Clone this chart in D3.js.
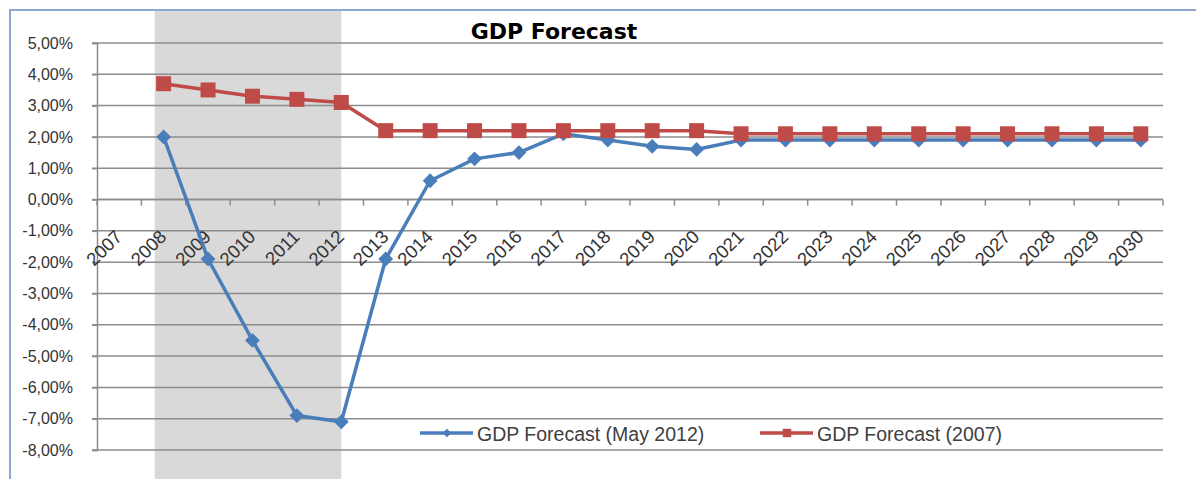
<!DOCTYPE html>
<html><head><meta charset="utf-8">
<script src="https://cdn.jsdelivr.net/npm/d3@7"></script>
<style>html,body{margin:0;padding:0;background:#fff;}svg{display:block;}</style>
</head><body>
<script>
const years = ["2007","2008","2009","2010","2011","2012","2013","2014","2015","2016","2017","2018","2019","2020","2021","2022","2023","2024","2025","2026","2027","2028","2029","2030"];
const forecastMay2012 = [null,2.0,-1.9,-4.5,-6.9,-7.1,-1.9,0.6,1.3,1.5,2.1,1.9,1.7,1.6,1.9,1.9,1.9,1.9,1.9,1.9,1.9,1.9,1.9,1.9];
const forecast2007 = [null,3.7,3.5,3.3,3.2,3.1,2.2,2.2,2.2,2.2,2.2,2.2,2.2,2.2,2.1,2.1,2.1,2.1,2.1,2.1,2.1,2.1,2.1,2.1];
const yTicks = [-8,-7,-6,-5,-4,-3,-2,-1,0,1,2,3,4,5];
const yTickLabels = ["-8,00%","-7,00%","-6,00%","-5,00%","-4,00%","-3,00%","-2,00%","-1,00%","0,00%","1,00%","2,00%","3,00%","4,00%","5,00%"];
const shadedPeriod = ["2008","2012"];
const seriesNames = ["GDP Forecast (May 2012)","GDP Forecast (2007)"];
const title = "GDP Forecast";

const W = 1196, H = 479;
const blue = "#4a7ebb", red = "#be4b48";
const textCol = "#333333";
const svg = d3.select("body").append("svg").attr("width", W).attr("height", H);

const x = d3.scaleBand().domain(years).range([97, 1163]).paddingInner(0).paddingOuter(0);
const cx = d => x(d) + x.bandwidth()/2;
const y = d3.scaleLinear().domain([-8, 5]).range([450, 43]);

// shaded period
const shadeX0 = cx(shadedPeriod[0]) - x.bandwidth()*0.2;
svg.append("rect")
  .attr("x", shadeX0)
  .attr("y", 11)
  .attr("width", cx(shadedPeriod[1]) - shadeX0)
  .attr("height", H - 11)
  .attr("fill", "#d9d9d9");

// chart border (top + left)
svg.append("path").attr("d", `M10,${H} L10,10 L${W},10`).attr("fill","none")
  .attr("stroke", "#8da6cf").attr("stroke-width", 2);

// gridlines
svg.append("g").selectAll("line").data(yTicks).join("line")
  .attr("x1", 92).attr("x2", 1163)
  .attr("y1", d => y(d)).attr("y2", d => y(d))
  .attr("stroke", "#8c8c8c").attr("stroke-width", 1.5);

// y axis
const yAxis = svg.append("g").attr("transform", "translate(97,0)")
  .call(d3.axisLeft(y).tickValues(yTicks).tickSize(5).tickPadding(19)
    .tickFormat((d,i) => yTickLabels[i]));
yAxis.select(".domain").attr("stroke", "#8c8c8c").attr("stroke-width", 1.5);
yAxis.selectAll(".tick line").attr("stroke", "#8c8c8c").attr("stroke-width", 1.5);
yAxis.selectAll("text").attr("font-family", "Liberation Sans, Arial, sans-serif")
  .attr("font-size", 16).attr("fill", textCol);

// x axis at 0
const xAxisG = svg.append("g").attr("transform", `translate(0,${y(0)})`);
xAxisG.append("line").attr("x1", 97).attr("x2", 1163).attr("stroke", "#8c8c8c").attr("stroke-width", 1.5);
const bounds = years.map(d => x(d)).concat([x(years[years.length-1]) + x.bandwidth()]);
xAxisG.selectAll("line.tk").data(bounds).join("line").attr("class","tk")
  .attr("x1", d => d).attr("x2", d => d).attr("y1", 0).attr("y2", 6)
  .attr("stroke", "#8c8c8c").attr("stroke-width", 1.5);

// x labels
svg.append("g").selectAll("text").data(years).join("text")
  .attr("transform", d => `translate(${cx(d)+4},238) rotate(-45)`)
  .attr("text-anchor", "end")
  .attr("font-family", "Liberation Sans, Arial, sans-serif")
  .attr("font-size", 18.5).attr("fill", textCol)
  .text(d => d);

// lines
const line = d3.line().defined(d => d.v != null).x(d => cx(d.k)).y(d => y(d.v));
const s1 = years.map((k,i) => ({k, v: forecastMay2012[i]}));
const s2 = years.map((k,i) => ({k, v: forecast2007[i]}));

svg.append("path").datum(s1).attr("d", line).attr("fill","none").attr("stroke", blue).attr("stroke-width", 3.5);
svg.append("g").selectAll("path").data(s1.filter(d => d.v != null)).join("path")
  .attr("d", d3.symbol(d3.symbolSquare, 110))
  .attr("transform", d => `translate(${cx(d.k)},${y(d.v)}) rotate(45)`)
  .attr("fill", blue);

svg.append("path").datum(s2).attr("d", line).attr("fill","none").attr("stroke", red).attr("stroke-width", 3.5);
svg.append("g").selectAll("path").data(s2.filter(d => d.v != null)).join("path")
  .attr("d", d3.symbol(d3.symbolSquare, 225))
  .attr("transform", d => `translate(${cx(d.k)},${y(d.v)})`)
  .attr("fill", red);

// title
svg.append("text").attr("x", 554).attr("y", 39).attr("text-anchor","middle")
  .attr("font-family", "DejaVu Sans, Verdana, sans-serif").attr("font-weight","bold")
  .attr("font-size", 22).attr("fill","#000").text(title);

// legend
const legend = [
  {name: seriesNames[0], color: blue, sym: "diamond", x: 420},
  {name: seriesNames[1], color: red, sym: "square", x: 760}
];
const lg = svg.append("g").selectAll("g").data(legend).join("g")
  .attr("transform", d => `translate(${d.x},433)`);
lg.append("line").attr("x1",0).attr("x2",53).attr("stroke", d=>d.color).attr("stroke-width",3.5);
lg.append("path")
  .attr("d", d => d.sym === "diamond" ? d3.symbol(d3.symbolSquare, 36)() : d3.symbol(d3.symbolSquare, 72)())
  .attr("transform", d => d.sym === "diamond" ? "translate(27,0) rotate(45)" : "translate(27,0)")
  .attr("fill", d => d.color);
lg.append("text").attr("x", 57).attr("y", 7.5)
  .attr("font-family", "Liberation Sans, Arial, sans-serif").attr("font-size", 19.5)
  .attr("fill", "#404040").text(d => d.name);
</script>
</body></html>
